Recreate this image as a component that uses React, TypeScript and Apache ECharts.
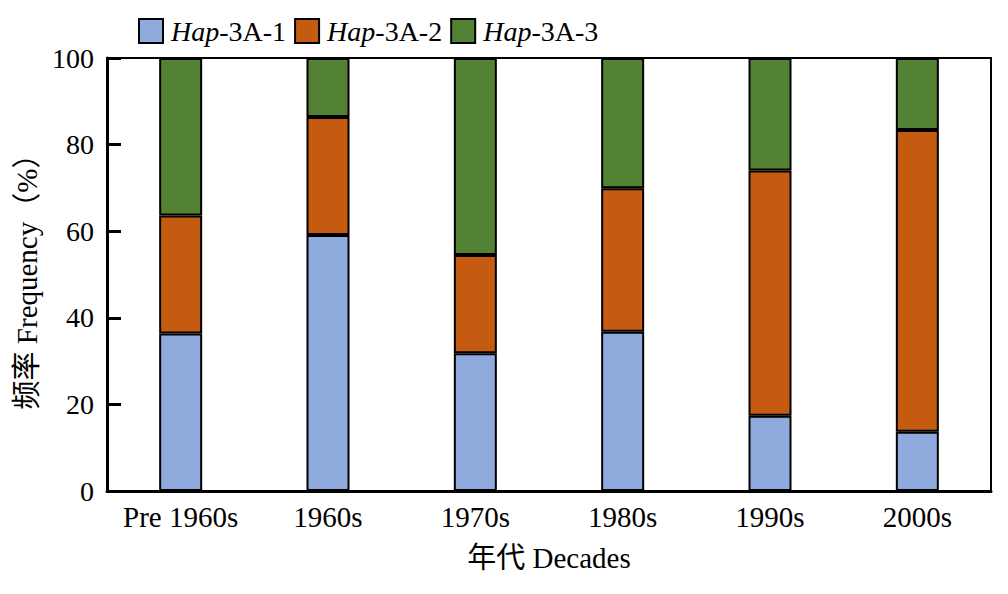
import React, { useEffect, useRef } from "react";
import * as echarts from "echarts";

const categories = ["Pre 1960s", "1960s", "1970s", "1980s", "1990s", "2000s"];
const seriesNames = ["Hap-3A-1", "Hap-3A-2", "Hap-3A-3"];
const hap1 = [36.4, 59.1, 31.8, 36.8, 17.4, 13.7];
const hap2 = [27.2, 27.3, 22.7, 33.1, 56.6, 69.7];
const hap3 = [36.4, 13.6, 45.5, 30.1, 26.0, 16.6];
const colors = ["#8FAADC", "#C55A11", "#548235"];
const yTicks = [0, 20, 40, 60, 80, 100];

const FONT = "'Liberation Serif', 'Times New Roman', 'Noto Sans CJK SC', serif";

export default function App() {
  const ref = useRef<HTMLDivElement>(null);
  useEffect(() => {
    if (!ref.current) return;
    const chart = echarts.init(ref.current, undefined, { renderer: "svg" });
    const data = [hap1, hap2, hap3];
    chart.setOption({
      animation: false,
      backgroundColor: "#ffffff",
      textStyle: { fontFamily: FONT, color: "#000" },
      legend: {
        left: 133,
        top: 12,
        itemWidth: 24,
        itemHeight: 24,
        itemGap: 8,
        icon: "rect",
        data: seriesNames,
        formatter: (name: string) => `{i|Hap}{n|${name.slice(3)}}`,
        textStyle: {
          fontFamily: FONT,
          fontSize: 28,
          color: "#000",
          padding: [0, 0, 0, 3],
          rich: {
            i: { fontStyle: "italic", fontSize: 28, fontFamily: FONT, color: "#000" },
            n: { fontSize: 28, fontFamily: FONT, color: "#000" },
          },
        },
      },
      grid: {
        left: 107,
        right: 17,
        top: 58,
        bottom: 103,
        show: true,
        borderColor: "#000",
        borderWidth: 2,
        containLabel: false,
      },
      xAxis: {
        type: "category",
        data: categories,
        name: "年代 Decades",
        nameLocation: "middle",
        nameGap: 52,
        nameTextStyle: { fontFamily: FONT, fontSize: 29, color: "#000" },
        axisLine: { show: true, lineStyle: { color: "#000", width: 3 } },
        axisTick: { show: false },
        axisLabel: { fontFamily: FONT, fontSize: 29, color: "#000", margin: 11, interval: 0 },
      },
      yAxis: {
        type: "value",
        min: 0,
        max: 100,
        interval: 20,
        name: "频率 Frequency（%）",
        nameLocation: "middle",
        nameGap: 59,
        nameTextStyle: { fontFamily: FONT, fontSize: 29, color: "#000" },
        axisLine: { show: true, lineStyle: { color: "#000", width: 3 } },
        axisTick: { show: true, inside: true, length: 14, lineStyle: { color: "#000", width: 3 } },
        axisLabel: {
          fontFamily: FONT,
          fontSize: 28,
          color: "#000",
          margin: 13,
          formatter: (v: number) => (yTicks.includes(v) ? String(v) : ""),
        },
        splitLine: { show: false },
      },
      series: seriesNames.map((name, i) => ({
        name,
        type: "bar",
        stack: "total",
        barWidth: 43,
        data: data[i],
        itemStyle: { color: colors[i], borderColor: "#000", borderWidth: 2 },
      })),
    });
    return () => chart.dispose();
  }, []);
  return (
    <div
      ref={ref}
      style={{ position: "fixed", left: 0, top: 0, width: 1008, height: 594, background: "#fff" }}
    />
  );
}
